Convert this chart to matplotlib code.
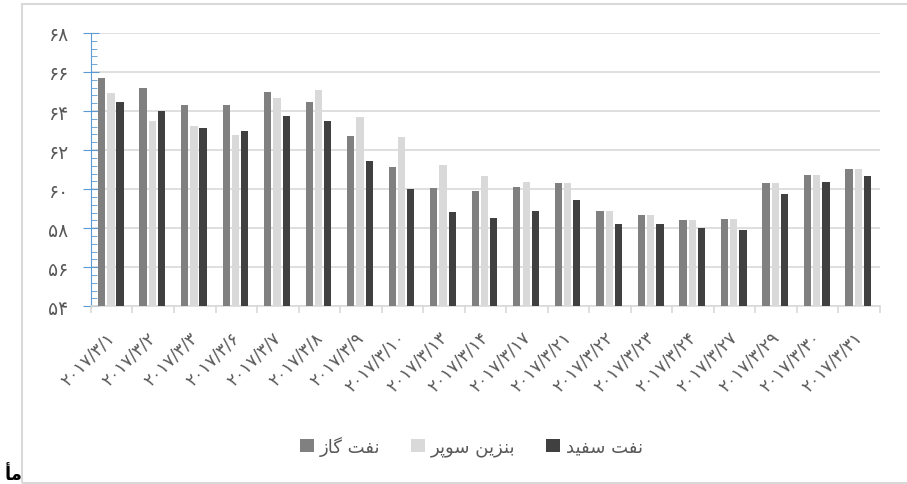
import numpy as np
import matplotlib
matplotlib.use('Agg')
import matplotlib.pyplot as plt
from matplotlib.ticker import MultipleLocator, FixedLocator, FuncFormatter
from matplotlib.patches import Rectangle

# === Data ===
dates = ['2017/3/1', '2017/3/2', '2017/3/3', '2017/3/6', '2017/3/7', '2017/3/8',
         '2017/3/9', '2017/3/10', '2017/3/13', '2017/3/14', '2017/3/17', '2017/3/21',
         '2017/3/22', '2017/3/23', '2017/3/24', '2017/3/27', '2017/3/29', '2017/3/30',
         '2017/3/31']
gas_oil = [65.71, 65.16, 64.29, 64.29, 64.97, 64.48, 62.73, 61.13, 60.05, 59.88,
           60.12, 60.31, 58.90, 58.67, 58.43, 58.49, 60.30, 60.73, 61.04]
super_gasoline = [64.91, 63.49, 63.23, 62.79, 64.67, 65.09, 63.67, 62.67, 61.23, 60.67,
                  60.38, 60.31, 58.88, 58.67, 58.43, 58.49, 60.30, 60.73, 61.04]
kerosene = [64.48, 63.98, 63.11, 62.97, 63.74, 63.49, 61.44, 60.00, 58.82, 58.51,
            58.87, 59.44, 58.22, 58.24, 58.00, 57.93, 59.73, 60.37, 60.66]
series_names = ['نفت گاز', 'بنزین سوپر', 'نفت سفید']
corner_note = 'مأ'

# === tiny Arabic/Persian shaper (matplotlib has no complex text layout) ===
# letter: (isolated, final, initial, medial); None -> does not join to the next letter
FORMS = {
    'ن': ('\uFEE5', '\uFEE6', '\uFEE7', '\uFEE8'),
    'ف': ('\uFED1', '\uFED2', '\uFED3', '\uFED4'),
    'ت': ('\uFE95', '\uFE96', '\uFE97', '\uFE98'),
    'گ': ('\uFB92', '\uFB93', '\uFB94', '\uFB95'),
    'ب': ('\uFE8F', '\uFE90', '\uFE91', '\uFE92'),
    'ی': ('\uFBFC', '\uFBFD', '\uFBFE', '\uFBFF'),
    'س': ('\uFEB1', '\uFEB2', '\uFEB3', '\uFEB4'),
    'پ': ('\uFB56', '\uFB57', '\uFB58', '\uFB59'),
    'م': ('\uFEE1', '\uFEE2', '\uFEE3', '\uFEE4'),
    'ا': ('\uFE8D', '\uFE8E', None, None),
    'ز': ('\uFEAF', '\uFEB0', None, None),
    'و': ('\uFEED', '\uFEEE', None, None),
    'ر': ('\uFEAD', '\uFEAE', None, None),
    'د': ('\uFEA9', '\uFEAA', None, None),
    'أ': ('\uFE83', '\uFE84', None, None),
}


def shape(text):
    out = []
    for i, ch in enumerate(text):
        if ch not in FORMS:
            out.append(ch)
            continue
        prev = text[i-1] if i > 0 else ' '
        nxt = text[i+1] if i < len(text)-1 else ' '
        join_prev = prev in FORMS and FORMS[prev][2] is not None
        join_next = nxt in FORMS and FORMS[ch][2] is not None
        f = FORMS[ch]
        if join_prev and join_next:
            out.append(f[3])
        elif join_prev:
            out.append(f[1])
        elif join_next:
            out.append(f[2])
        else:
            out.append(f[0])
    return ''.join(out[::-1])


FA = str.maketrans('0123456789', '۰۱۲۳۴۵۶۷۸۹')
labels = [d.translate(FA) for d in dates]

plt.rcParams['font.family'] = ['DejaVu Sans']

c_gas = '#808080'; c_sup = '#d9d9d9'; c_ker = '#404040'
blue = '#5b9bd5'; grid = '#d9d9d9'; txt = '#595959'

fig = plt.figure(figsize=(9.07, 4.85), dpi=100)
ax = fig.add_axes([0.1003, 0.3664, 0.8699, 0.5636])

x = np.arange(len(dates))
w = 0.175
ax.bar(x - 0.245, gas_oil, w, color=c_gas, label=shape(series_names[0]), zorder=3)
ax.bar(x - 0.02, super_gasoline, w, color=c_sup, label=shape(series_names[1]), zorder=3)
ax.bar(x + 0.2, kerosene, w, color=c_ker, label=shape(series_names[2]), zorder=3)

ax.set_ylim(54, 68)
ax.set_xlim(-0.5, len(dates) - 0.5)
ax.yaxis.set_major_locator(MultipleLocator(2))
ax.yaxis.set_minor_locator(MultipleLocator(0.4))
ax.yaxis.set_major_formatter(FuncFormatter(lambda v, p: str(int(round(v))).translate(FA)))
ax.grid(axis='y', color=grid, lw=1.2, zorder=0)

for s in ['top', 'right']:
    ax.spines[s].set_visible(False)
ax.spines['left'].set_color(blue)
ax.spines['bottom'].set_color(grid)
ax.spines['bottom'].set_linewidth(1.2)

ax.tick_params(axis='y', which='major', direction='inout', length=11, color=blue,
               labelsize=13.5, labelcolor=txt, pad=11)
ax.tick_params(axis='y', which='minor', direction='in', length=4, color=blue)

ax.set_xticks(x)
ax.set_xticklabels(labels, rotation=45, ha='right', va='center', rotation_mode='anchor')
ax.xaxis.set_minor_locator(FixedLocator(np.arange(len(dates) + 1) - 0.5))
ax.tick_params(axis='x', which='major', length=0, labelsize=12.5, labelcolor=txt, pad=20)
ax.tick_params(axis='x', which='minor', length=5, color=grid, width=1.2)

fig.legend(loc='center', bbox_to_anchor=(0.52, 0.078), ncol=3, frameon=False,
           fontsize=13, handlelength=0.75, handleheight=0.75, handletextpad=0.35,
           columnspacing=1.7, labelcolor=txt)

# outer frame of the chart area
fig.patches.append(Rectangle((0.0243, 0.002), 1.0, 0.9877, transform=fig.transFigure,
                             fill=False, ec='#d9d9d9', lw=1.5, zorder=0))
fig.text(0.005, 0.003, shape(corner_note), fontsize=13, fontweight='bold',
         color='black', ha='left', va='bottom')

fig.savefig('out.png', dpi=100)
